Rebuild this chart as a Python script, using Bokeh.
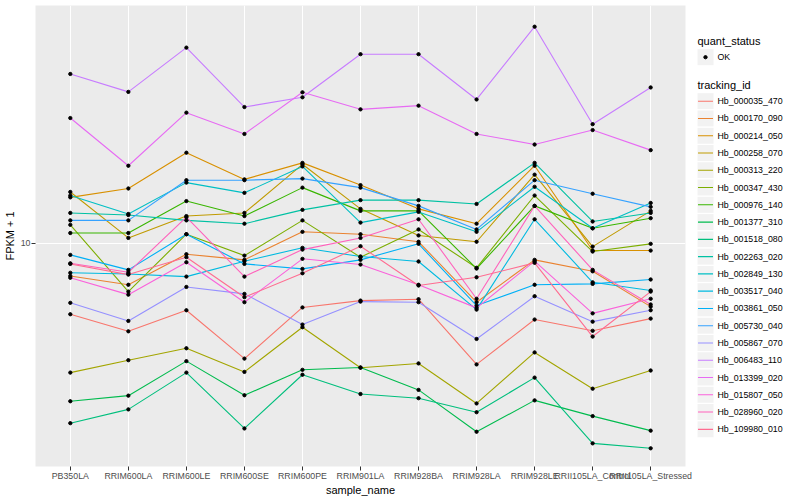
from bokeh.plotting import figure
from bokeh.models import Range1d, FactorRange, FixedTicker, PrintfTickFormatter
from bokeh.layouts import row
from bokeh.core.properties import value
from bokeh.embed import file_html
from bokeh.resources import INLINE

samples = ["PB350LA", "RRIM600LA", "RRIM600LE", "RRIM600SE", "RRIM600PE", "RRIM901LA",
           "RRIM928BA", "RRIM928LA", "RRIM928LE", "RRII105LA_Control", "RRII105LA_Stressed"]

tracking_ids = ["Hb_000035_470", "Hb_000170_090", "Hb_000214_050", "Hb_000258_070",
                "Hb_000313_220", "Hb_000347_430", "Hb_000976_140", "Hb_001377_310",
                "Hb_001518_080", "Hb_002263_020", "Hb_002849_130", "Hb_003517_040",
                "Hb_003861_050", "Hb_005730_040", "Hb_005867_070", "Hb_006483_110",
                "Hb_013399_020", "Hb_015807_050", "Hb_028960_020", "Hb_109980_010"]

colors = ["#F8766D", "#EA8331", "#D89000", "#C09B00", "#A3A500", "#7CAE00", "#39B600",
          "#00BB4E", "#00BF7D", "#00C1A3", "#00BFC4", "#00BAE0", "#00B0F6", "#35A2FF",
          "#9590FF", "#C77CFF", "#E76BF3", "#FA62DB", "#FF62BC", "#FF6C91"]

# FPKM + 1 per sample, one list per tracking_id
hb_000035_470 = [5.79, 5.08, 5.97, 4.12, 6.10, 6.43, 6.50, 3.94, 5.56, 5.10, 5.60]
hb_000170_090 = [7.77, 7.26, 9.18, 8.79, 10.9, 10.7, 10.1, 6.35, 8.79, 8.05, 6.14]
hb_000214_050 = [14.2, 15.2, 20.0, 16.3, 18.5, 15.6, 13.0, 11.6, 18.1, 9.44, 9.44]
hb_000258_070 = [14.8, 10.4, 12.3, 12.6, 18.3, 13.0, 10.6, 10.1, 16.9, 9.73, 12.8]
hb_000313_220 = [3.70, 4.07, 4.46, 3.72, 5.24, 3.84, 3.97, 2.92, 4.32, 3.27, 3.76]
hb_000347_430 = [11.5, 6.89, 10.7, 9.08, 11.9, 8.97, 11.1, 8.27, 14.4, 9.37, 9.94]
hb_000976_140 = [10.8, 10.8, 13.8, 12.3, 15.3, 12.8, 12.8, 8.22, 13.3, 11.2, 12.1]
hb_001377_310 = [2.97, 3.10, 4.04, 3.11, 3.78, 3.85, 3.24, 2.35, 2.99, 2.65, 2.37]
hb_001518_080 = [2.51, 2.79, 3.70, 2.41, 3.64, 3.14, 3.04, 2.73, 3.56, 2.15, 2.07]
hb_002263_020 = [12.6, 12.4, 11.9, 11.6, 12.9, 13.9, 13.9, 13.5, 18.5, 11.8, 12.6]
hb_002849_130 = [14.4, 12.5, 15.9, 14.7, 18.0, 11.7, 12.7, 10.9, 15.4, 11.2, 13.6]
hb_003517_040 = [7.96, 7.89, 7.73, 8.70, 9.64, 9.02, 8.68, 6.00, 12.0, 7.40, 6.95]
hb_003861_050 = [9.13, 8.14, 10.7, 8.52, 8.20, 8.79, 9.94, 6.19, 7.26, 7.31, 7.56]
hb_005730_040 = [11.9, 11.9, 16.2, 16.2, 16.4, 15.3, 13.3, 11.1, 16.2, 14.6, 13.2]
hb_005867_070 = [6.32, 5.50, 7.14, 6.77, 5.35, 6.38, 6.35, 4.79, 6.65, 5.47, 5.97]
hb_006483_110 = [36.6, 31.9, 44.8, 28.4, 30.6, 42.6, 42.6, 30.1, 52.6, 24.9, 33.0]
hb_013399_020 = [26.1, 18.1, 27.2, 23.1, 31.8, 27.9, 28.7, 23.1, 21.3, 23.8, 20.4]
hb_015807_050 = [7.66, 6.73, 8.63, 6.35, 8.86, 8.48, 7.26, 6.08, 8.70, 5.83, 6.52]
hb_028960_020 = [8.56, 7.99, 12.2, 7.73, 9.51, 10.4, 12.0, 6.52, 13.3, 8.14, 6.24]
hb_109980_010 = [8.52, 7.85, 8.97, 6.60, 7.93, 9.76, 7.22, 7.69, 8.59, 4.88, 6.89]

series = [hb_000035_470, hb_000170_090, hb_000214_050, hb_000258_070, hb_000313_220,
          hb_000347_430, hb_000976_140, hb_001377_310, hb_001518_080, hb_002263_020,
          hb_002849_130, hb_003517_040, hb_003861_050, hb_005730_040, hb_005867_070,
          hb_006483_110, hb_013399_020, hb_015807_050, hb_028960_020, hb_109980_010]

y_ticks = [10]
FONT = "Liberation Sans"
FRAME_W, FRAME_H, TOP = 650, 461, 5

p = figure(x_range=FactorRange(factors=samples, range_padding=0.1, range_padding_units="absolute"),
           y_axis_type="log", y_range=Range1d(1.80, 61.9),
           frame_width=FRAME_W, frame_height=FRAME_H, title=None,
           min_border_left=27, min_border_right=7, min_border_top=TOP, min_border_bottom=20,
           x_axis_label="sample_name", y_axis_label="FPKM + 1",
           output_backend="svg", toolbar_location=None)

p.background_fill_color = "#EBEBEB"
p.border_fill_color = "white"
p.outline_line_color = None

p.yaxis.ticker = FixedTicker(ticks=y_ticks)
p.yaxis.formatter = PrintfTickFormatter(format="%d")
p.ygrid.ticker = FixedTicker(ticks=y_ticks)
p.grid.grid_line_color = "white"
p.grid.grid_line_width = 1.1
p.ygrid.minor_grid_line_color = None

for ax in (p.xaxis, p.yaxis):
    ax.axis_line_color = None
    ax.major_tick_line_color = "#333333"
    ax.major_tick_out = 4
    ax.major_tick_in = 0
    ax.minor_tick_line_color = None
    ax.major_label_text_color = "#4D4D4D"
    ax.major_label_text_font = FONT
    ax.major_label_text_font_size = "8.8px"
    ax.axis_label_text_font = FONT
    ax.axis_label_text_font_size = "11px"
    ax.axis_label_text_font_style = "normal"
    ax.axis_label_text_color = "black"
p.yaxis.major_label_standoff = 1
p.yaxis.axis_label_standoff = 2
p.xaxis.major_label_standoff = 0
p.xaxis.axis_label_standoff = 0

for vals, col in zip(series, colors):
    p.line(x=samples, y=vals, line_color=col, line_width=1.1)

px = [s for _ in series for s in samples]
py = [v for vals in series for v in vals]
p.scatter(x=px, y=py, size=3.3, color="black", marker="circle")

# legend panel: its frame is aligned with the main frame, ranges in page pixels
LX0 = 692
leg = figure(frame_width=100, frame_height=FRAME_H, title=None,
             x_range=Range1d(LX0, LX0 + 100), y_range=Range1d(TOP + FRAME_H, TOP),
             x_axis_type=None, y_axis_type=None, min_border=0, min_border_top=TOP,
             output_backend="svg", toolbar_location=None)
leg.outline_line_color = None
leg.background_fill_color = "white"
leg.border_fill_color = "white"

key_x, key_w, text_x, title_x = 705, 17, 717, 697
leg.text(x=[title_x], y=[40.7], text=["quant_status"], text_font=value(FONT), text_font_size="11px",
         text_baseline="middle", text_align="left", text_color="black")
leg.rect(x=[key_x], y=[56.7], width=key_w, height=key_w, fill_color="#F2F2F2", line_color="white")
leg.scatter(x=[key_x], y=[56.7], size=3.3, color="black")
leg.text(x=[text_x], y=[56.7], text=["OK"], text_font=value(FONT), text_font_size="8.8px",
         text_baseline="middle", text_align="left", text_color="black")
leg.text(x=[title_x], y=[84.3], text=["tracking_id"], text_font=value(FONT), text_font_size="11px",
         text_baseline="middle", text_align="left", text_color="black")

step = 17.27
ky = [100.7 + i * step for i in range(len(tracking_ids))]
leg.rect(x=[key_x] * len(ky), y=ky, width=key_w, height=key_w, fill_color="#F2F2F2", line_color="white")
leg.segment(x0=[key_x - 7.5] * len(ky), y0=ky, x1=[key_x + 7.5] * len(ky), y1=ky,
            line_color=colors, line_width=1.1)
leg.text(x=[text_x] * len(ky), y=ky, text=tracking_ids, text_font=value(FONT), text_font_size="8.8px",
         text_baseline="middle", text_align="left", text_color="black")

layout = row(p, leg)
open("out.html", "w").write(file_html(layout, INLINE))
